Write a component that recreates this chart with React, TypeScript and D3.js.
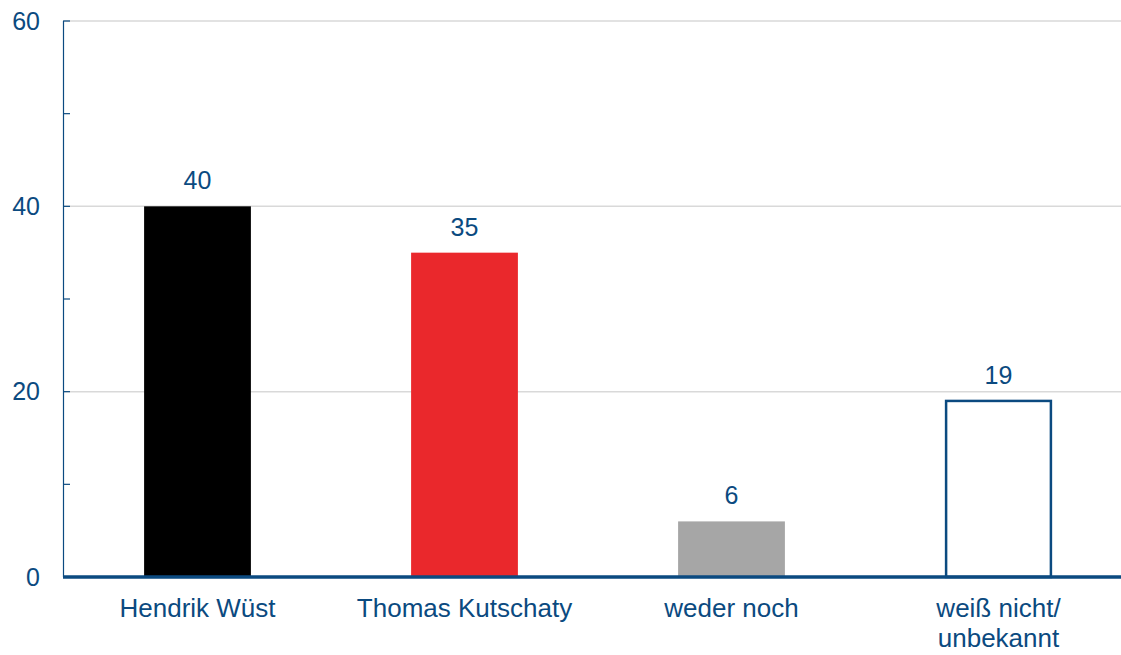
import * as d3 from "d3";
import React, { useRef, useEffect } from "react";

const categories = ["Hendrik Wüst", "Thomas Kutschaty", "weder noch", "weiß nicht/\nunbekannt"];
const values = [40, 35, 6, 19];
const fills = ["#000000", "#ea282c", "#a6a6a6", "#ffffff"];
const majorTicks = [0, 20, 40, 60];
const minorTicks = [10, 30, 50];

const W = 1121;
const H = 655;
const BLUE = "#0b4a80";
const FONT = "Liberation Sans, Arial, sans-serif";

function BarChart() {
  const ref = useRef<SVGSVGElement>(null);

  useEffect(() => {
    const svg = d3.select(ref.current);
    svg.selectAll("*").remove();

    const x = d3.scaleBand().domain(categories).range([64, 1132]).paddingInner(0.6).paddingOuter(0.3);
    const y = d3.scaleLinear().domain([0, 60]).range([577, 21]);

    // grid lines
    svg.selectAll(".grid")
      .data(majorTicks.filter(d => d > 0))
      .enter().append("line")
      .attr("x1", 64).attr("x2", W)
      .attr("y1", d => y(d)).attr("y2", d => y(d))
      .attr("stroke", "#d9d9d9").attr("stroke-width", 1.5);

    // y axis line
    svg.append("line")
      .attr("x1", 63.5).attr("x2", 63.5)
      .attr("y1", y(60)).attr("y2", y(0))
      .attr("stroke", BLUE).attr("stroke-width", 1.2);

    svg.selectAll(".tick")
      .data(majorTicks.concat(minorTicks))
      .enter().append("line")
      .attr("x1", 63).attr("x2", 70)
      .attr("y1", d => y(d)).attr("y2", d => y(d))
      .attr("stroke", BLUE).attr("stroke-width", 1.2);

    svg.selectAll(".ylab")
      .data(majorTicks)
      .enter().append("text")
      .attr("x", 40).attr("y", d => y(d) + 8.5)
      .attr("text-anchor", "end")
      .attr("font-family", FONT)
      .attr("font-size", 25)
      .attr("fill", BLUE)
      .text(d => d);

    // bars
    svg.selectAll(".bar")
      .data(values)
      .enter().append("rect")
      .attr("x", (d, i) => x(categories[i])! + (i === 3 ? 1 : 0))
      .attr("y", d => y(d))
      .attr("width", (d, i) => x.bandwidth() - (i === 3 ? 2 : 0))
      .attr("height", d => y(0) - y(d))
      .attr("fill", (d, i) => fills[i])
      .attr("stroke", (d, i) => (i === 3 ? BLUE : "none"))
      .attr("stroke-width", 2.5);

    // value labels
    svg.selectAll(".val")
      .data(values)
      .enter().append("text")
      .attr("x", (d, i) => x(categories[i])! + x.bandwidth() / 2)
      .attr("y", d => y(d) - 17)
      .attr("text-anchor", "middle")
      .attr("font-family", FONT)
      .attr("font-size", 25)
      .attr("fill", BLUE)
      .text(d => d);

    // zero baseline
    svg.append("line")
      .attr("x1", 63).attr("x2", W)
      .attr("y1", y(0)).attr("y2", y(0))
      .attr("stroke", BLUE).attr("stroke-width", 3.5);

    // category labels
    const cat = svg.selectAll(".cat")
      .data(categories)
      .enter().append("text")
      .attr("text-anchor", "middle")
      .attr("font-family", FONT)
      .attr("font-size", 26)
      .attr("fill", BLUE);
    cat.each(function (d) {
      const lines = d.split("\n");
      const cx = x(d)! + x.bandwidth() / 2;
      d3.select(this).selectAll("tspan")
        .data(lines)
        .enter().append("tspan")
        .attr("x", cx)
        .attr("y", (l, j) => 617 + j * 30)
        .text(l => l);
    });
  }, []);

  return <svg ref={ref} width={W} height={H} style={{ display: "block" }} />;
}

export default function App() {
  return (
    <div style={{ position: "absolute", left: 0, top: 0, background: "#fff" }}>
      <BarChart />
    </div>
  );
}
